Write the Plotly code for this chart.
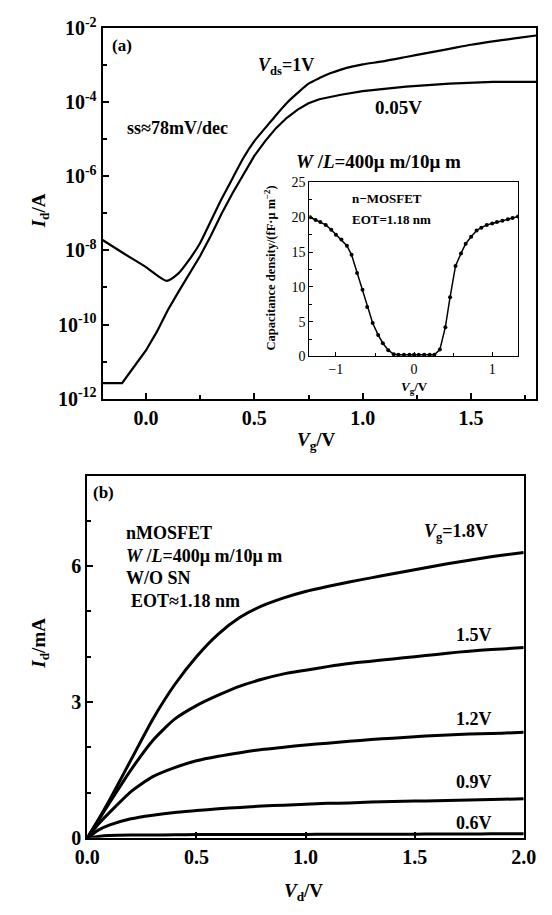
import plotly.graph_objects as go

W, H = 552, 915

# ---------------- Panel (a): transfer curves ----------------
vg_1v = [-0.2, -0.1, 0.0, 0.095, 0.15, 0.2, 0.25, 0.3, 0.35, 0.4, 0.45, 0.5, 0.55, 0.6, 0.65,
         0.7, 0.75, 0.8, 0.85, 0.9, 0.95, 1.0, 1.1, 1.2, 1.3, 1.4, 1.5, 1.6, 1.7, 1.8]
logid_1v = [-7.72, -8.09, -8.45, -8.82, -8.62, -8.25, -7.8, -7.2, -6.6, -6.05, -5.5, -5.05, -4.7,
            -4.35, -4.02, -3.75, -3.5, -3.35, -3.22, -3.12, -3.04, -2.98, -2.89, -2.78, -2.67,
            -2.56, -2.45, -2.36, -2.28, -2.2]

vg_005v = [-0.2, -0.11, -0.05, 0.0, 0.05, 0.1, 0.15, 0.2, 0.25, 0.3, 0.35, 0.4, 0.45, 0.5, 0.55,
           0.6, 0.65, 0.7, 0.75, 0.8, 0.9, 1.0, 1.2, 1.4, 1.6, 1.8]
logid_005v = [-11.58, -11.58, -11.1, -10.7, -10.2, -9.62, -9.12, -8.62, -8.15, -7.6, -7.0, -6.45,
              -5.95, -5.45, -5.05, -4.7, -4.42, -4.2, -4.03, -3.92, -3.8, -3.7, -3.58, -3.5,
              -3.45, -3.45]

# inset C-V
cv_vg = [-1.33, -1.26, -1.2, -1.13, -1.06, -1.0, -0.93, -0.86, -0.8, -0.73, -0.66, -0.6, -0.53,
         -0.46, -0.4, -0.33, -0.26, -0.2, -0.13, -0.06, 0.0, 0.06, 0.13, 0.2, 0.26, 0.33, 0.4,
         0.46, 0.53, 0.6, 0.66, 0.73, 0.8, 0.86, 0.93, 1.0, 1.06, 1.13, 1.2, 1.26, 1.33]
cv_c = [20.0, 19.6, 19.3, 18.9, 18.2, 17.5, 16.8, 15.9, 14.6, 12.0, 9.6, 7.1, 4.8, 3.1, 1.9, 0.9,
        0.3, 0.25, 0.25, 0.25, 0.25, 0.25, 0.25, 0.25, 0.25, 1.0, 4.2, 8.5, 13.0, 14.8, 16.2,
        17.2, 18.1, 18.5, 18.9, 19.1, 19.3, 19.5, 19.7, 19.9, 20.1]

# ---------------- Panel (b): output curves ----------------
vd = [0, 0.05, 0.1, 0.2, 0.3, 0.4, 0.5, 0.6, 0.7, 0.8, 0.9, 1.0, 1.1, 1.2, 1.3, 1.4, 1.5, 1.6,
      1.7, 1.8, 1.9, 2.0]
id_18 = [0, 0.4, 0.82, 1.72, 2.62, 3.38, 4.0, 4.5, 4.87, 5.12, 5.3, 5.44, 5.55, 5.65, 5.74,
         5.83, 5.92, 6.01, 6.09, 6.17, 6.24, 6.3]
id_15 = [0, 0.38, 0.76, 1.5, 2.15, 2.62, 2.92, 3.15, 3.35, 3.5, 3.62, 3.7, 3.78, 3.85, 3.9,
         3.95, 4.0, 4.05, 4.1, 4.14, 4.17, 4.2]
id_12 = [0, 0.3, 0.55, 1.02, 1.35, 1.55, 1.7, 1.8, 1.88, 1.95, 2.0, 2.05, 2.09, 2.13, 2.17,
         2.2, 2.23, 2.26, 2.28, 2.3, 2.31, 2.33]
id_09 = [0, 0.17, 0.28, 0.42, 0.5, 0.56, 0.6, 0.64, 0.67, 0.7, 0.72, 0.74, 0.76, 0.77, 0.79,
         0.8, 0.81, 0.82, 0.83, 0.84, 0.85, 0.86]
id_06 = [0, 0.03, 0.05, 0.06, 0.06, 0.065, 0.07, 0.07, 0.07, 0.075, 0.075, 0.075, 0.08, 0.08,
         0.08, 0.08, 0.08, 0.085, 0.085, 0.085, 0.09, 0.09]

log_ticks = [1e-12, 1e-10, 1e-8, 1e-6, 1e-4, 1e-2]
log_ticktext = ["10<sup>-12</sup>", "10<sup>-10</sup>", "10<sup>-8</sup>", "10<sup>-6</sup>",
                "10<sup>-4</sup>", "10<sup>-2</sup>"]

FONT = "Liberation Serif"


def px(x, y):
    return x / W, 1 - y / H


fig = go.Figure()

fig.add_trace(go.Scatter(x=vg_1v, y=[10 ** v for v in logid_1v], mode="lines",
                         line=dict(color="black", width=2.2, shape="spline", smoothing=0.6),
                         xaxis="x", yaxis="y", showlegend=False))
fig.add_trace(go.Scatter(x=vg_005v, y=[10 ** v for v in logid_005v], mode="lines",
                         line=dict(color="black", width=2.2), xaxis="x", yaxis="y",
                         showlegend=False))
fig.add_trace(go.Scatter(x=cv_vg, y=cv_c, mode="lines+markers",
                         line=dict(color="black", width=1.5),
                         marker=dict(color="black", size=4), xaxis="x3", yaxis="y3",
                         showlegend=False))
for ys in [id_18, id_15, id_12, id_09, id_06]:
    fig.add_trace(go.Scatter(x=vd, y=ys, mode="lines",
                             line=dict(color="black", width=3, shape="spline", smoothing=0.6),
                             xaxis="x2", yaxis="y2", showlegend=False))

axis_common = dict(showline=True, linecolor="black", linewidth=2, mirror=True,
                   showgrid=False, zeroline=False, ticks="inside", tickcolor="black",
                   tickfont=dict(family=FONT, size=20, color="black", weight="bold"))

fig.update_layout(
    width=W, height=H, margin=dict(l=0, r=0, t=0, b=0),
    paper_bgcolor="white", plot_bgcolor="white",
    font=dict(family=FONT, color="black"),
    xaxis=dict(domain=[94 / W, 549 / W], range=[-0.2, 1.8], anchor="y",
               tickvals=[0, 0.5, 1.0, 1.5], ticktext=["0.0", "0.5", "1.0", "1.5"],
               ticklen=6, tickwidth=1.5,
               minor=dict(tickvals=[0.25, 0.75, 1.25, 1.75], ticks="inside", ticklen=4,
                          tickcolor="black", tickwidth=1.5),
               **axis_common),
    yaxis=dict(domain=[1 - 396 / H, 1 - 15.5 / H], type="log", range=[-12, -2], anchor="x",
               tickvals=log_ticks, ticktext=log_ticktext, ticklen=6, tickwidth=1.5,
               minor=dict(tickvals=[1e-11, 1e-9, 1e-7, 1e-5, 1e-3], ticks="inside",
                          ticklen=4, tickcolor="black", tickwidth=1.5),
               **axis_common),
    xaxis2=dict(domain=[78 / W, 536 / W], range=[0, 2.0], anchor="y2",
                tickvals=[0, 0.5, 1.0, 1.5, 2.0], ticktext=["0.0", "0.5", "1.0", "1.5", "2.0"],
                ticklen=6, tickwidth=1.5, **axis_common),
    yaxis2=dict(domain=[1 - 847 / H, 1 - 475 / H], range=[0, 8], anchor="x2",
                tickvals=[0, 3, 6], ticklen=6, tickwidth=1.5,
                minor=dict(tickvals=[1, 2, 4, 5, 7], ticks="inside", ticklen=4,
                           tickcolor="black", tickwidth=1.5),
                **axis_common),
    xaxis3=dict(domain=[311 / W, 530 / W], range=[-1.34, 1.33], anchor="y3",
                tickvals=[-1, 0, 1], ticktext=["\u22121", "0", "1"],
                showline=True, linecolor="black", linewidth=1.2, mirror=True,
                showgrid=False, zeroline=False, ticks="inside", ticklen=4, tickcolor="black",
                minor=dict(tickvals=[-0.5, 0.5], ticks="inside", ticklen=3,
                           tickcolor="black"),
                tickfont=dict(family=FONT, size=14, color="black")),
    yaxis3=dict(domain=[1 - 352.7 / H, 1 - 174 / H], range=[0, 25], anchor="x3",
                tickvals=[0, 5, 10, 15, 20, 25],
                showline=True, linecolor="black", linewidth=1.2, mirror=True,
                showgrid=False, zeroline=False, ticks="inside", ticklen=4, tickcolor="black",
                minor=dict(tickvals=[2.5, 7.5, 12.5, 17.5, 22.5], ticks="inside", ticklen=3,
                           tickcolor="black"),
                tickfont=dict(family=FONT, size=14, color="black")),
)


def ann(text, X, Y, size=16, xanchor="center", angle=0, bold=True):
    x, y = px(X, Y)
    fig.add_annotation(text=("<b>%s</b>" % text) if bold else text, x=x, y=y,
                       xref="paper", yref="paper", showarrow=False, xanchor=xanchor,
                       yanchor="middle", textangle=angle,
                       font=dict(family=FONT, size=size, color="black"))


# panel (a) texts
ann("(a)", 114, 33, 17)
ann("<i>V</i><sub>ds</sub>=1V", 287, 55, 18)
ann("0.05V", 405, 97, 19)
ann("ss\u224878mV/dec", 173, 118, 18)
ann("<i>W</i> /<i>L</i>=400\u03bc m/10\u03bc m", 384, 152, 19)
ann("n\u2212MOSFET", 392, 190, 13)
ann("EOT=1.18 nm", 397, 212, 13)
ann("Capacitance density/(fF\u00b7\u03bc m<sup>\u22122</sup>)", 270, 262, 12.5, angle=-90)
ann("<i>V</i><sub>g</sub>/V", 421, 385, 13)
ann("<i>V</i><sub>g</sub>/V", 319, 440, 19)
ann("<i>I</i><sub>d</sub>/A", 28, 203, 19, angle=-90)

# panel (b) texts
ann("(b)", 95, 492, 17)
ann("nMOSFET", 117, 534, 18, xanchor="left")
ann("<i>W</i> /<i>L</i>=400\u03bc m/10\u03bc m", 117, 558, 18, xanchor="left")
ann("W/O SN", 117, 580, 18, xanchor="left")
ann("EOT\u22481.18 nm", 122, 604, 18, xanchor="left")
ann("<i>V</i><sub>g</sub>=1.8V", 465, 534, 18)
ann("1.5V", 484, 639, 18)
ann("1.2V", 484, 725, 18)
ann("0.9V", 484, 790, 18)
ann("0.6V", 484, 832, 18)
ann("<i>V</i><sub>d</sub>/V", 305, 903, 19)
ann("<i>I</i><sub>d</sub>/mA", 28, 647, 19, angle=-90)

fig.write_html("out.html")
